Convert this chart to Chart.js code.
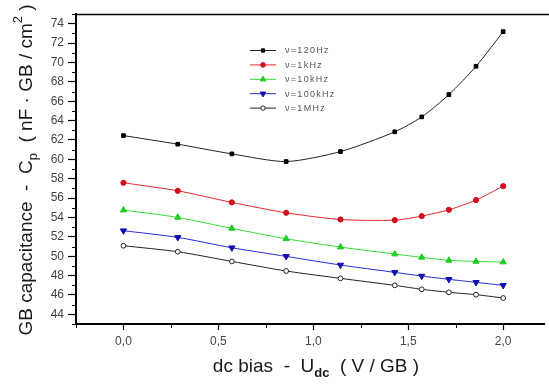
<!DOCTYPE html>
<html>
<head>
<meta charset="utf-8">
<script src="https://cdn.jsdelivr.net/npm/chart.js@4/dist/chart.umd.min.js"></script>
<style>
html,body{margin:0;padding:0;background:#fff;}
#wrap{width:549px;height:387px;position:relative;}
</style>
</head>
<body>
<div id="wrap"><canvas id="c" width="549" height="387"></canvas></div>
<script>
// ---- data ----
const biasX = [0, 0.286, 0.571, 0.857, 1.143, 1.429, 1.571, 1.714, 1.857, 2.0];
const cp120Hz  = [62.45, 61.56, 60.56, 59.77, 60.80, 62.84, 64.38, 66.68, 69.60, 73.18];
const cp1kHz   = [57.58, 56.75, 55.55, 54.48, 53.79, 53.72, 54.14, 54.79, 55.79, 57.23];
const cp10kHz  = [54.76, 54.00, 52.87, 51.80, 50.94, 50.22, 49.88, 49.57, 49.46, 49.40];
const cp100kHz = [52.63, 51.94, 50.87, 49.98, 49.09, 48.33, 47.95, 47.61, 47.30, 46.99];
const cp1MHz   = [51.08, 50.46, 49.46, 48.47, 47.71, 46.99, 46.58, 46.27, 46.03, 45.68];
const seriesLabels = ['\u03bd=120Hz', '\u03bd=1kHz', '\u03bd=10kHz', '\u03bd=100kHz', '\u03bd=1MHz'];
const xTickValues = [0, 0.5, 1.0, 1.5, 2.0];
const yTickValues = [44, 46, 48, 50, 52, 54, 56, 58, 60, 62, 64, 66, 68, 70, 72, 74];

const toPts = arr => arr.map((v, i) => ({x: biasX[i], y: v}));

const styles = [
  {color:'#222222', fill:'#000000', pointStyle:'rect', radius:2.6, rotation:0},
  {color:'#e8262e', fill:'#d0101a', pointStyle:'circle', radius:2.6, rotation:0},
  {color:'#33dd33', fill:'#22cc22', pointStyle:'triangle', radius:3.6, rotation:0},
  {color:'#2a2ad0', fill:'#1010b0', pointStyle:'triangle', radius:3.6, rotation:180},
  {color:'#222222', fill:'#ffffff', pointStyle:'circle', radius:2.4, rotation:0}
];
const allSeries = [cp120Hz, cp1kHz, cp10kHz, cp100kHz, cp1MHz];

const datasets = allSeries.map((arr, i) => ({
  label: seriesLabels[i],
  data: toPts(arr),
  borderColor: styles[i].color,
  borderWidth: 1,
  backgroundColor: styles[i].fill,
  pointBackgroundColor: styles[i].fill,
  pointBorderColor: i === 4 ? '#222' : styles[i].fill,
  pointBorderWidth: 1,
  pointStyle: styles[i].pointStyle,
  pointRadius: styles[i].radius,
  pointRotation: styles[i].rotation,
  tension: 0.25,
  fill: false
}));

const FONT = 'Arial, "Liberation Sans", sans-serif';

const decor = {
  id: 'decor',
  afterDraw(chart) {
    const ctx = chart.ctx;
    const ca = chart.chartArea;
    const xs = chart.scales.x, ys = chart.scales.y;
    ctx.save();
    // top frame line
    ctx.strokeStyle = '#000';
    ctx.lineWidth = 1.5;
    ctx.beginPath();
    ctx.moveTo(ca.left, ca.top + 0.5);
    ctx.lineTo(chart.width, ca.top + 0.5);
    ctx.stroke();
    // minor ticks
    ctx.lineWidth = 1;
    ctx.strokeStyle = '#000';
    for (let v = 43; v <= 75; v += 2) {
      const y = Math.round(ys.getPixelForValue(v)) + 0.5;
      ctx.beginPath(); ctx.moveTo(ca.left - 4, y); ctx.lineTo(ca.left, y); ctx.stroke();
    }
    for (let v = -0.25; v <= 2.26; v += 0.5) {
      const x = Math.round(xs.getPixelForValue(v)) + 0.5;
      ctx.beginPath(); ctx.moveTo(x, ca.bottom); ctx.lineTo(x, ca.bottom + 4); ctx.stroke();
    }
    // legend
    const lx = 250, ly0 = 50, dy = 14.4;
    chart.data.datasets.forEach((ds, i) => {
      const y = ly0 + i * dy;
      ctx.strokeStyle = ds.borderColor;
      ctx.lineWidth = 1;
      ctx.beginPath(); ctx.moveTo(lx, y + 0.5); ctx.lineTo(lx + 26, y + 0.5); ctx.stroke();
      ctx.fillStyle = ds.pointBackgroundColor;
      ctx.strokeStyle = ds.pointBorderColor;
      ctx.lineWidth = 1;
      Chart.helpers.drawPoint(ctx, {
        pointStyle: ds.pointStyle, radius: ds.pointRadius * 0.9, rotation: ds.pointRotation, borderWidth: 1
      }, lx + 13, y + 0.5);
      ctx.font = '9px ' + FONT;
      if ('letterSpacing' in ctx) ctx.letterSpacing = '1.3px';
      ctx.fillStyle = '#555';
      ctx.textAlign = 'left';
      ctx.textBaseline = 'middle';
      ctx.fillText(ds.label, lx + 35, y + 1);
      if ('letterSpacing' in ctx) ctx.letterSpacing = '0px';
    });

    // x title
    ctx.fillStyle = '#1a1a1a';
    ctx.textBaseline = 'alphabetic';
    const fMain = '19px ' + FONT, fSub = 'bold 13px ' + FONT;
    const partsX = [
      {t:'dc bias  -  U', f:fMain, dy:0},
      {t:'dc', f:fSub, dy:5},
      {t:'  ( V / GB )', f:fMain, dy:0}
    ];
    let w = 0;
    partsX.forEach(p => { ctx.font = p.f; p.w = ctx.measureText(p.t).width; w += p.w; });
    let x = 316 - w / 2;
    const by = 372;
    partsX.forEach(p => { ctx.font = p.f; ctx.textAlign = 'left'; ctx.fillText(p.t, x, by + p.dy); x += p.w; });

    // y title (rotated)
    ctx.save();
    ctx.translate(32, 170);
    ctx.rotate(-Math.PI / 2);
    const fMainY = '19px ' + FONT;
    const fSub2 = '13px ' + FONT;
    const partsY = [
      {t:'GB capacitance  -  C', f:fMainY, dy:0},
      {t:'p', f:fSub2, dy:5},
      {t:'  ( nF \u00b7 GB / cm', f:fMainY, dy:0},
      {t:'2', f:fSub2, dy:-10},
      {t:' )', f:fMainY, dy:0}
    ];
    w = 0;
    partsY.forEach(p => { ctx.font = p.f; p.w = ctx.measureText(p.t).width; w += p.w; });
    x = -w / 2;
    partsY.forEach(p => { ctx.font = p.f; ctx.textAlign = 'left'; ctx.fillText(p.t, x, p.dy); x += p.w; });
    ctx.restore();

    ctx.restore();
  }
};

new Chart(document.getElementById('c'), {
  type: 'line',
  data: { datasets },
  options: {
    responsive: false,
    animation: false,
    devicePixelRatio: 1,
    layout: { padding: { top: 14, right: 0, left: 0, bottom: 0 } },
    plugins: { legend: { display: false }, tooltip: { enabled: false } },
    scales: {
      x: {
        type: 'linear',
        min: -0.25, max: 2.215,
        afterBuildTicks: s => { s.ticks = xTickValues.map(v => ({value: v})); },
        afterFit: s => { s.height = 63; },
        grid: { drawOnChartArea: false, tickLength: 6, tickColor: '#000', tickWidth: 1.2 },
        border: { display: true, color: '#000', width: 2 },
        ticks: {
          padding: 4,
          color: '#444',
          font: { size: 12, family: FONT },
          callback: v => v.toFixed(1).replace('.', ',')
        }
      },
      y: {
        type: 'linear',
        min: 43, max: 75,
        afterBuildTicks: s => { s.ticks = yTickValues.map(v => ({value: v})); },
        afterFit: s => { s.width = 76; },
        grid: { drawOnChartArea: false, tickLength: 8, tickColor: '#000', tickWidth: 1.2 },
        border: { display: true, color: '#000', width: 2 },
        ticks: {
          padding: 4,
          color: '#444',
          font: { size: 12, family: FONT },
          callback: v => String(v)
        }
      }
    }
  },
  plugins: [decor]
});
</script>
</body>
</html>
